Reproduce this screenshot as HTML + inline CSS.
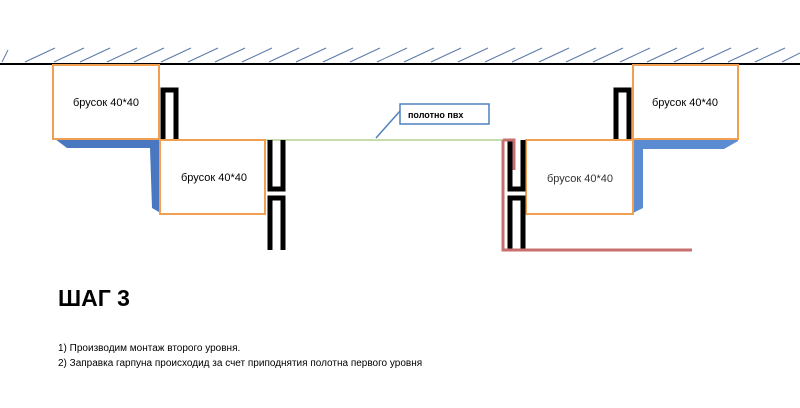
<!DOCTYPE html>
<html><head><meta charset="utf-8"><style>
body{margin:0;background:#fff;width:800px;height:408px;overflow:hidden;font-family:"Liberation Sans",sans-serif}
</style></head><body>
<svg width="800" height="408" xmlns="http://www.w3.org/2000/svg" style="position:absolute;left:0;top:0">
<g stroke="#5a7aa8" stroke-width="1">
<line x1="2" y1="62" x2="8" y2="50"/>
<line x1="25" y1="62" x2="55" y2="48"/>
<line x1="54" y1="62" x2="84" y2="48"/>
<line x1="80" y1="62" x2="110" y2="48"/>
<line x1="107" y1="62" x2="137" y2="48"/>
<line x1="134" y1="62" x2="164" y2="48"/>
<line x1="161" y1="62" x2="191" y2="48"/>
<line x1="188" y1="62" x2="218" y2="48"/>
<line x1="215" y1="62" x2="245" y2="48"/>
<line x1="242" y1="62" x2="272" y2="48"/>
<line x1="269" y1="62" x2="299" y2="48"/>
<line x1="296" y1="62" x2="326" y2="48"/>
<line x1="323" y1="62" x2="353" y2="48"/>
<line x1="350" y1="62" x2="380" y2="48"/>
<line x1="377" y1="62" x2="407" y2="48"/>
<line x1="404" y1="62" x2="434" y2="48"/>
<line x1="431" y1="62" x2="461" y2="48"/>
<line x1="458" y1="62" x2="488" y2="48"/>
<line x1="485" y1="62" x2="515" y2="48"/>
<line x1="512" y1="62" x2="542" y2="48"/>
<line x1="539" y1="62" x2="569" y2="48"/>
<line x1="566" y1="62" x2="596" y2="48"/>
<line x1="593" y1="62" x2="623" y2="48"/>
<line x1="620" y1="62" x2="650" y2="48"/>
<line x1="647" y1="62" x2="677" y2="48"/>
<line x1="674" y1="62" x2="704" y2="48"/>
<line x1="701" y1="62" x2="731" y2="48"/>
<line x1="728" y1="62" x2="758" y2="48"/>
<line x1="755" y1="62" x2="785" y2="48"/>
<line x1="782" y1="62" x2="800" y2="53"/>
</g>
<line x1="0" y1="64" x2="800" y2="64" stroke="#000" stroke-width="2"/>
<polygon points="55,139 159,139 159,212 152,208 150,148 67,148" fill="#4a78c0"/>
<polygon points="633,139 738,139 738,141 724,149 643,149 643,208 633,213" fill="#5b8bd0"/>
<line x1="265" y1="140" x2="505" y2="140" stroke="#b5cf8e" stroke-width="1.5"/>
<g fill="#fff" stroke="#f0a050" stroke-width="2">
<rect x="53" y="65" width="106" height="74"/>
<rect x="160" y="140" width="105" height="74"/>
<rect x="633" y="65" width="105" height="74"/>
<rect x="526" y="140" width="107" height="74"/>
</g>
<g fill="none" stroke="#000" stroke-width="5">
<path d="M163,139 V90 H176 V139"/>
<path d="M270,140 V189 H283 V140"/>
<path d="M270,250 V198 H283 V250"/>
<path d="M616,139 V90 H629 V139"/>
<path d="M510,140 V189 H523 V140"/>
<path d="M510,250 V198 H523 V250"/>
</g>
<path d="M503,140 V250 H692 M503,140 H514 V170" fill="none" stroke="#c87070" stroke-width="3"/>
<line x1="376" y1="138" x2="400" y2="111" stroke="#4f81bd" stroke-width="1.5"/>
<rect x="400" y="104" width="89" height="20" fill="#fff" stroke="#4f81bd" stroke-width="1.5"/>
<text x="408" y="118" font-size="9" font-weight="bold" font-family="Liberation Sans, sans-serif">полотно пвх</text>
<g font-size="11" font-family="Liberation Sans, sans-serif" fill="#000">
<text x="73" y="106">брусок 40*40</text>
<text x="181" y="181">брусок 40*40</text>
<text x="652" y="106">брусок 40*40</text>
<text x="547" y="182" fill="#333">брусок 40*40</text>
</g>
<text x="58" y="306" font-size="23" font-weight="bold" font-family="Liberation Sans, sans-serif">ШАГ 3</text>
<text x="58" y="351" font-size="10" font-family="Liberation Sans, sans-serif">1) Производим монтаж второго уровня.</text>
<text x="58" y="366" font-size="10" font-family="Liberation Sans, sans-serif">2) Заправка гарпуна происходид за счет приподнятия полотна первого уровня</text>
</svg>
</body></html>
